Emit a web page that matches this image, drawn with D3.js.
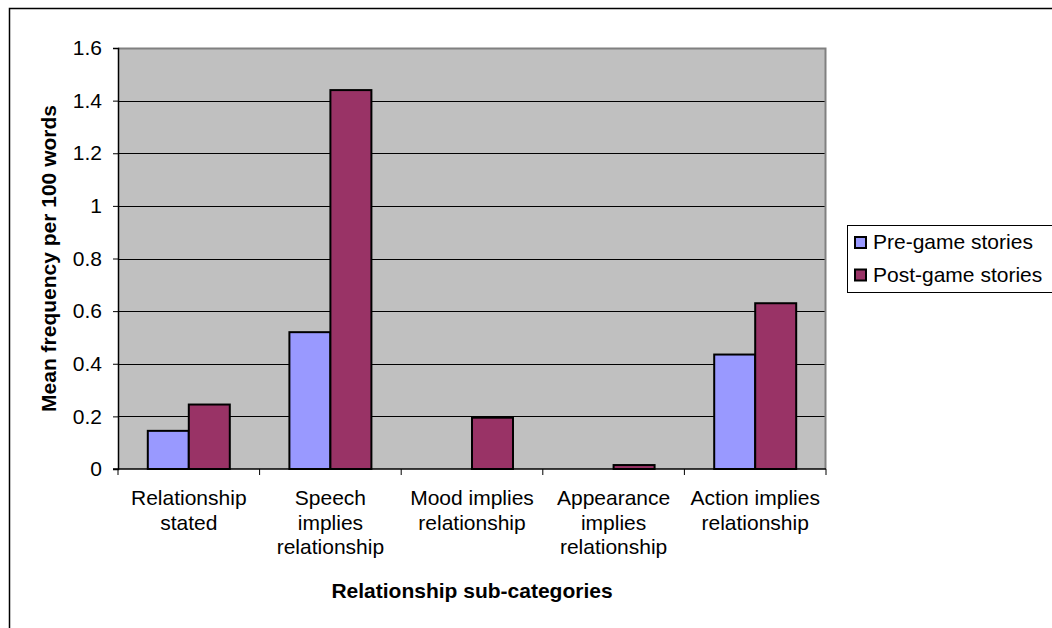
<!DOCTYPE html>
<html>
<head>
<meta charset="utf-8">
<script src="https://cdn.jsdelivr.net/npm/d3@7"></script>
<style>
  html, body { margin: 0; padding: 0; background: #fff; }
  svg { display: block; font-family: "Liberation Sans", Arial, sans-serif; }
</style>
</head>
<body>
<svg id="chart" width="1052" height="628"></svg>
<script>
// Category labels (multi-line) and series values
const categories = [
  ["Relationship", "stated"],
  ["Speech", "implies", "relationship"],
  ["Mood implies", "relationship"],
  ["Appearance", "implies", "relationship"],
  ["Action implies", "relationship"]
];
const seriesNames = ["Pre-game stories", "Post-game stories"];
const preGame = [0.145, 0.52, 0, 0, 0.435];
const postGame = [0.245, 1.44, 0.195, 0.015, 0.63];
const yTicks = [0, 0.2, 0.4, 0.6, 0.8, 1, 1.2, 1.4, 1.6];
const colors = ["#9999FF", "#993366"];

const FONT = 21;
const svg = d3.select("#chart");
const plot = { left: 118, top: 48, right: 826, bottom: 469 };

// outer chart frame
svg.append("rect")
  .attr("x", 9.5).attr("y", 8.5)
  .attr("width", 1100).attr("height", 700)
  .attr("fill", "#fff").attr("stroke", "#000").attr("stroke-width", 1.5);

const x = d3.scaleBand()
  .domain(d3.range(categories.length))
  .range([plot.left, plot.right])
  .paddingInner(0).paddingOuter(0);

const y = d3.scaleLinear().domain([0, 1.6]).range([plot.bottom, plot.top]);

const inner = d3.scaleBand()
  .domain([0, 1])
  .range([0, x.bandwidth()])
  .paddingOuter(0.727).paddingInner(0);

// plot background
svg.append("rect")
  .attr("x", plot.left).attr("y", plot.top)
  .attr("width", plot.right - plot.left).attr("height", plot.bottom - plot.top)
  .attr("fill", "#C0C0C0");

// gridlines
svg.append("g").selectAll("line")
  .data(yTicks.filter(t => t > 0 && t < 1.6))
  .join("line")
  .attr("x1", plot.left).attr("x2", plot.right)
  .attr("y1", d => Math.round(y(d)) + 0.5).attr("y2", d => Math.round(y(d)) + 0.5)
  .attr("stroke", "#000").attr("stroke-width", 1);

// plot border (top and right)
svg.append("path")
  .attr("d", `M${plot.left},${plot.top + 0.5}H${plot.right - 0.5}V${plot.bottom}`)
  .attr("fill", "none").attr("stroke", "#808080").attr("stroke-width", 2);

// bars
const data = categories.map((c, i) => [preGame[i], postGame[i]]);
const groups = svg.append("g").selectAll("g")
  .data(data)
  .join("g")
  .attr("transform", (d, i) => `translate(${x(i)},0)`);

groups.selectAll("rect")
  .data(d => d.map((v, k) => ({ v, k })).filter(o => o.v > 0))
  .join("rect")
  .attr("x", o => inner(o.k))
  .attr("y", o => y(o.v))
  .attr("width", inner.bandwidth())
  .attr("height", o => y(0) - y(o.v))
  .attr("fill", o => colors[o.k])
  .attr("stroke", "#000").attr("stroke-width", 2);

// y axis
const yAxis = svg.append("g")
  .attr("transform", `translate(${plot.left},0)`)
  .call(d3.axisLeft(y).tickValues(yTicks).tickSize(5).tickPadding(11)
    .tickFormat(d => d3.format("")(d)));
yAxis.select(".domain").attr("stroke", "#000").attr("stroke-width", 1.5);
yAxis.selectAll(".tick line").attr("stroke", "#000");
yAxis.selectAll("text").attr("font-size", FONT).attr("fill", "#000")
  .attr("font-family", "Liberation Sans, Arial, sans-serif");

// x axis line and category ticks
const xAxis = svg.append("g")
  .attr("transform", `translate(0,${plot.bottom})`);
xAxis.append("line")
  .attr("x1", plot.left - 5).attr("x2", plot.right)
  .attr("y1", 0).attr("y2", 0)
  .attr("stroke", "#000").attr("stroke-width", 1.5);
xAxis.selectAll("line.tick")
  .data(d3.range(categories.length + 1))
  .join("line")
  .attr("class", "tick")
  .attr("x1", i => i < categories.length ? x(i) : plot.right)
  .attr("x2", i => i < categories.length ? x(i) : plot.right)
  .attr("y1", 0).attr("y2", 6)
  .attr("stroke", "#000");

// category labels
const catLabels = svg.append("g").selectAll("text")
  .data(categories)
  .join("text")
  .attr("x", (d, i) => x(i) + x.bandwidth() / 2)
  .attr("y", 505)
  .attr("text-anchor", "middle")
  .attr("font-size", FONT).attr("fill", "#000");
catLabels.selectAll("tspan")
  .data(d => d)
  .join("tspan")
  .attr("x", function () { return this.parentNode.getAttribute("x"); })
  .attr("dy", (d, j) => j === 0 ? 0 : 24.5)
  .text(d => d);

// axis titles
svg.append("text")
  .attr("x", (plot.left + plot.right) / 2).attr("y", 598)
  .attr("text-anchor", "middle")
  .attr("font-size", FONT).attr("font-weight", "bold")
  .text("Relationship sub-categories");

svg.append("text")
  .attr("transform", `translate(56,258.5) rotate(-90)`)
  .attr("text-anchor", "middle")
  .attr("font-size", FONT).attr("font-weight", "bold")
  .text("Mean frequency per 100 words");

// legend
const legend = svg.append("g").attr("transform", "translate(847,225)");
legend.append("rect")
  .attr("x", 0.5).attr("y", 0.5).attr("width", 220).attr("height", 67)
  .attr("fill", "#fff").attr("stroke", "#000").attr("stroke-width", 1);
const items = legend.selectAll("g.item")
  .data(seriesNames)
  .join("g")
  .attr("class", "item")
  .attr("transform", (d, i) => `translate(0,${24 + i * 32.5})`);
items.append("rect")
  .attr("x", 8).attr("y", -12).attr("width", 11).attr("height", 11)
  .attr("fill", (d, i) => colors[i])
  .attr("stroke", "#000").attr("stroke-width", 2);
items.append("text")
  .attr("x", 26).attr("y", 0)
  .attr("font-size", FONT).attr("fill", "#000")
  .text(d => d);
</script>
</body>
</html>
